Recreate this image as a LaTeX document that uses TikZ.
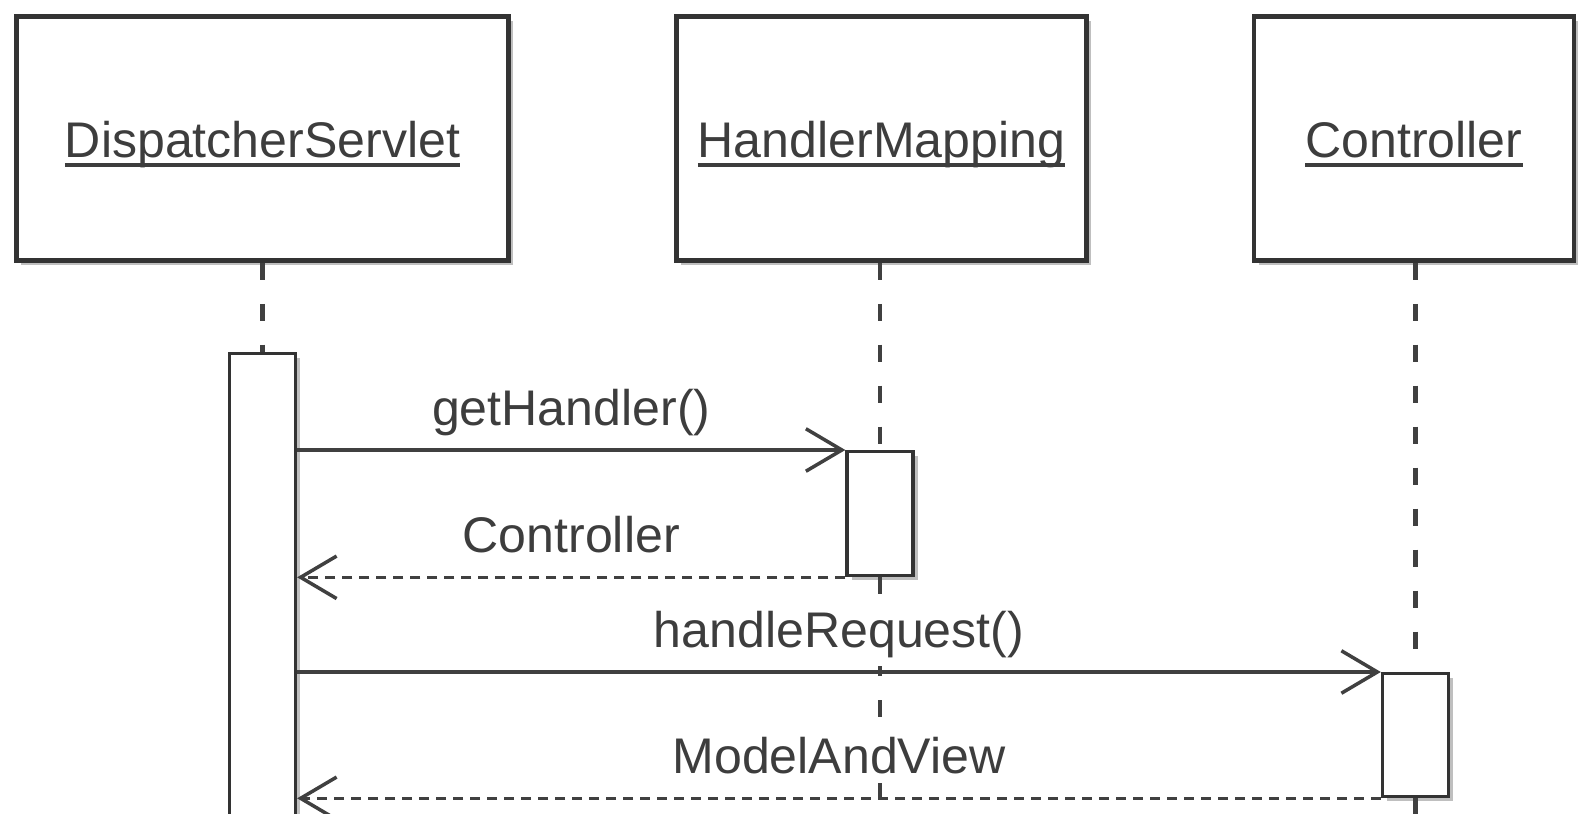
\documentclass[tikz,border=0pt]{standalone}
\usepackage{fontspec}
\setmainfont{Liberation Sans}
\usetikzlibrary{arrows.meta,shadows}

% underlined participant name
\newcommand\umlname[1]{\setbox0\hbox{#1}\rlap{\rule[-5.2pt]{\wd0}{2.2pt}}\box0}

\tikzset{
  umlfont/.style={font=\fontsize{28.5}{34}\selectfont, text=black!76},
  boxshadow/.style={drop shadow={shadow xshift=0.09cm, shadow yshift=-0.09cm, fill=black!25, opacity=1}},
  head/.style={draw=black!80, line width=2.6pt, fill=white, boxshadow, umlfont, minimum height=4.88cm, text height=22pt, text depth=0pt},
  act/.style={draw=black!80, line width=1.9pt, fill=white, boxshadow, minimum width=1.32cm, anchor=north},
  lifeline/.style={draw=black!75, line width=2.6pt, dash pattern=on 0.34cm off 0.48cm},
  call/.style={draw=black!75, line width=2pt, -{Straight Barb[length=0.72cm, width=0.85cm, line width=2pt]}},
  reply/.style={call, dash pattern=on 0.2cm off 0.14cm},
  msgtext/.style={midway, anchor=base, yshift=0.5cm, umlfont, fill=white, inner xsep=2pt, inner ysep=5pt}
}

\begin{document}
\begin{tikzpicture}[x=0.02cm, y=-0.02cm]
\clip (0,0) rectangle (1579,814);

% participants
\node [head, minimum width=9.84cm] (ds) at (262.5,138.5) {\umlname{DispatcherServlet}};
\node [head, minimum width=8.2cm] (hm) at (881.5,138.5) {\umlname{HandlerMapping}};
\node [head, minimum width=6.4cm] (ctrl) at (1414,138.5) {\umlname{Controller}};

% activations
\node [act, minimum height=11cm] (dsact) at (262.5,352) {};
\node [act, minimum height=2.48cm] (hmact) at (880,450) {};
\node [act, minimum height=2.46cm] (ctrlact) at (1415.5,672) {};

\coordinate (hmend) at (880,840);
\coordinate (ctrlend) at (1415.5,840);

% lifelines
\draw [lifeline] (ds.south -| dsact.north) -- (dsact.north);
\draw [lifeline] (hm.south -| hmact.north) -- (hmact.north);
\draw [lifeline] (hmact.south) -- (hmend);
\draw [lifeline] (ctrl.south -| ctrlact.north) -- (ctrlact.north);
\draw [lifeline] (ctrlact.south) -- (ctrlend);

% messages
\draw [call] (dsact.east |- hmact.north) -- (hmact.north west) node [msgtext] {getHandler()};
\draw [reply] (hmact.south west) -- (dsact.east |- hmact.south) node [msgtext] {Controller};
\draw [call] (dsact.east |- ctrlact.north) -- (ctrlact.north west) node [msgtext] {handleRequest()};
\draw [reply] (ctrlact.south west) -- (dsact.east |- ctrlact.south) node [msgtext] {ModelAndView};

\end{tikzpicture}
\end{document}
